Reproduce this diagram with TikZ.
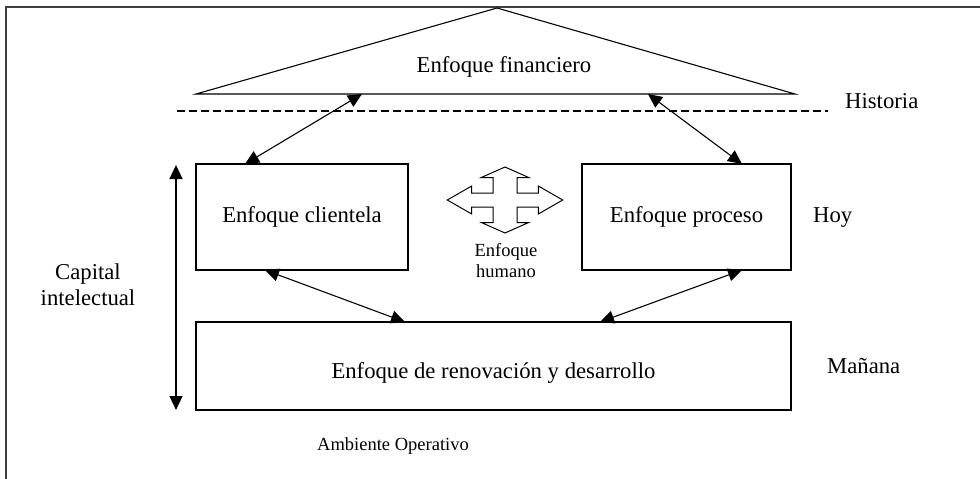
\documentclass[tikz,border=0pt]{standalone}
\usepackage{fontspec}
\setmainfont{Liberation Serif}
\usetikzlibrary{arrows.meta}
\begin{document}
\begin{tikzpicture}[x=1pt,y=-1pt,
  big/.style={font=\fontsize{22.7}{26}\selectfont, inner sep=0pt},
  small/.style={font=\fontsize{18.5}{21}\selectfont, inner sep=0pt},
  boxnode/.style={draw, line width=1.2pt, inner sep=0pt, font=\fontsize{22.7}{26}\selectfont},
  link/.style={line width=1.1pt, {Triangle[length=14pt,width=13pt]}-{Triangle[length=14pt,width=13pt]}},
  frameline/.style={line width=1.1pt, black!75}]
\useasboundingbox (0,0) rectangle (980,479);
% frame
\coordinate (f1) at (6,479);
\coordinate (f2) at (6,7);
\coordinate (f3) at (980,7);
\draw[frameline] (f1) -- (f2) -- (f3);
% triangle
\coordinate (apex) at (497,8);
\coordinate (tl) at (196,94);
\coordinate (tr) at (795,94);
\draw[line width=1.1pt] (tl) -- (apex) -- (tr) -- cycle;
\node[big, anchor=base] (fin) at (504,72) {Enfoque financiero};
% dashed line
\coordinate (d1) at (177,111);
\coordinate (d2) at (828,111);
\draw[line width=1.2pt, dash pattern=on 8pt off 4pt] (d1) -- (d2);
\node[big, anchor=base west] (hist) at (845,108) {Historia};
% boxes
\node[boxnode, minimum width=212pt, minimum height=106pt] (cli) at (302,217) {Enfoque clientela};
\node[boxnode, minimum width=209pt, minimum height=106pt] (pro) at (686.5,217) {Enfoque proceso};
\node[boxnode, minimum width=595pt, minimum height=88pt] (ren) at (493.5,366) {};
\node[big, anchor=base] (rent) at (493.5,378) {Enfoque de renovación y desarrollo};
% side labels
\node[big, anchor=base west] (hoy) at (813,222) {Hoy};
\node[big, anchor=base west] (man) at (827,373) {Mañana};
\node[big, align=center, anchor=base] (cap) at (88,305) {Capital\\intelectual};
\node[small, align=center, anchor=base] (hum) at (506,277) {Enfoque\\humano};
\node[small, anchor=base] (amb) at (393,450) {Ambiente Operativo};
% cross arrow
\coordinate (hc) at (505,200);
\draw[line width=1pt, shift={(hc)}]
  (0,-33) -- (23.7,-22.5) -- (12,-22.5) -- (12,-7) -- (33.3,-7) -- (33.3,-14) -- (57.7,0)
  -- (33.3,14) -- (33.3,7) -- (12,7) -- (12,22.5) -- (23.7,22.5) -- (0,33)
  -- (-23.7,22.5) -- (-12,22.5) -- (-12,7) -- (-33.3,7) -- (-33.3,14) -- (-57.7,0)
  -- (-33.3,-14) -- (-33.3,-7) -- (-12,-7) -- (-12,-22.5) -- (-23.7,-22.5) -- cycle;
% connector end points
\coordinate (a1) at (362,94);
\coordinate (b1) at (245,164);
\coordinate (a2) at (648,94);
\coordinate (b2) at (742,164);
\coordinate (a3) at (265,270);
\coordinate (b3) at (405,322);
\coordinate (a4) at (742,270);
\coordinate (b4) at (600,322);
\coordinate (v1) at (176,165);
\coordinate (v2) at (176,410);
\draw[link] (a1) -- (b1);
\draw[link] (a2) -- (b2);
\draw[link] (a3) -- (b3);
\draw[link] (a4) -- (b4);
\draw[link] (v1) -- (v2);
\end{tikzpicture}
\end{document}
